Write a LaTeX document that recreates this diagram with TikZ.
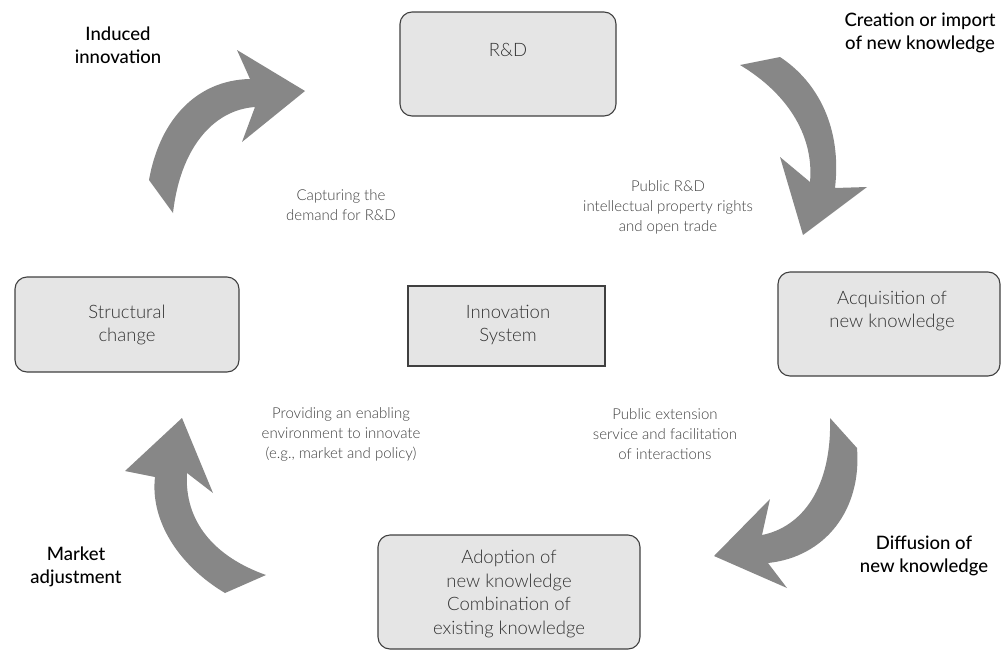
\documentclass[tikz,border=0pt]{standalone}
\usepackage{fontspec}
\setmainfont{Lato}
\IfFontExistsTF{Lato Light}{\newfontfamily\lightfont{Lato Light}}{\newfontfamily\lightfont{Lato}}
\IfFontExistsTF{Lato Medium}{\newfontfamily\medfont{Lato Medium}}{\newfontfamily\medfont{Lato}}
\begin{document}
\begin{tikzpicture}[x=1pt,y=-1pt,
  box/.style={draw=black!75,line width=1.1pt,fill=black!10,rounded corners=12pt,inner sep=0pt},
  sqbox/.style={draw=black!75,line width=1.1pt,fill=black!10,inner sep=0pt},
  boxtext/.style={align=center,text=black!80,font=\lightfont\fontsize{18.5}{23.5}\selectfont,inner sep=0pt},
  small/.style={align=center,text=black!75,font=\lightfont\fontsize{15}{20}\selectfont,inner sep=0pt},
  big/.style={align=center,text=black,font=\medfont\fontsize{18.5}{23}\selectfont,inner sep=0pt},
  barrow/.style={fill=black!47,draw=none}]
\useasboundingbox (0,0) rectangle (1004,651);
% boxes
\node[box,minimum width=216pt,minimum height=104pt] (rd) at (508,64) {};
\node[boxtext] (rdt) at (508,50) {R\&D};
\node[box,minimum width=222pt,minimum height=104pt] (acq) at (889,324) {};
\node[boxtext] (acqt) at (892,311) {Acquisition of\\new knowledge};
\node[box,minimum width=224pt,minimum height=95pt] (str) at (127,324.5) {};
\node[boxtext] (strt) at (127,325) {Structural\\change};
\node[sqbox,minimum width=197pt,minimum height=80pt] (inn) at (506.5,326) {};
\node[boxtext] (innt) at (508,325) {Innovation\\System};
\node[box,minimum width=262pt,minimum height=114pt] (ado) at (509,592) {};
\node[boxtext] (adot) at (509,594) {Adoption of\\new knowledge\\Combination of\\existing knowledge};
% arrows
\path[barrow] (149,180) .. controls (160,118) and (198,80) .. (250,79) -- (237,50) -- (305,91) -- (242,142) -- (255,107) .. controls (212,110) and (180,150) .. (173,213) -- cycle;
\path[barrow] (740,65) -- (780,57) .. controls (818,82) and (842,128) .. (835,188) -- (867,187) -- (803,235) -- (780,157) -- (810,182) .. controls (814,138) and (790,95) .. (740,65) -- cycle;
\path[barrow] (830,418) -- (857,448) .. controls (862,510) and (825,557) .. (768,563) -- (787,588) -- (714,556) -- (770,499) -- (762,535) .. controls (802,527) and (832,488) .. (830,418) -- cycle;
\path[barrow] (266,575) -- (225,593) .. controls (178,565) and (150,520) .. (155,477) -- (125,471) -- (182,418) -- (213,493) -- (187,473) .. controls (184,522) and (215,557) .. (266,575) -- cycle;
% labels
\node[big] (l1) at (118,45) {Induced\\innovation};
\node[big] (l2) at (920,33) {Creation or import\\of new knowledge};
\node[big] (l3) at (924,556) {Diffusion of\\new knowledge};
\node[big] (l4) at (76,567) {Market\\adjustment};
\node[small] (s1) at (341,205) {Capturing the\\demand for R\&D};
\node[small] (s2) at (668,207) {Public R\&D\\intellectual property rights\\and open trade};
\node[small] (s3) at (341,434) {Providing an enabling\\environment to innovate\\(e.g., market and policy)};
\node[small] (s4) at (665,434) {Public extension\\service and facilitation\\of interactions};
\end{tikzpicture}
\end{document}
